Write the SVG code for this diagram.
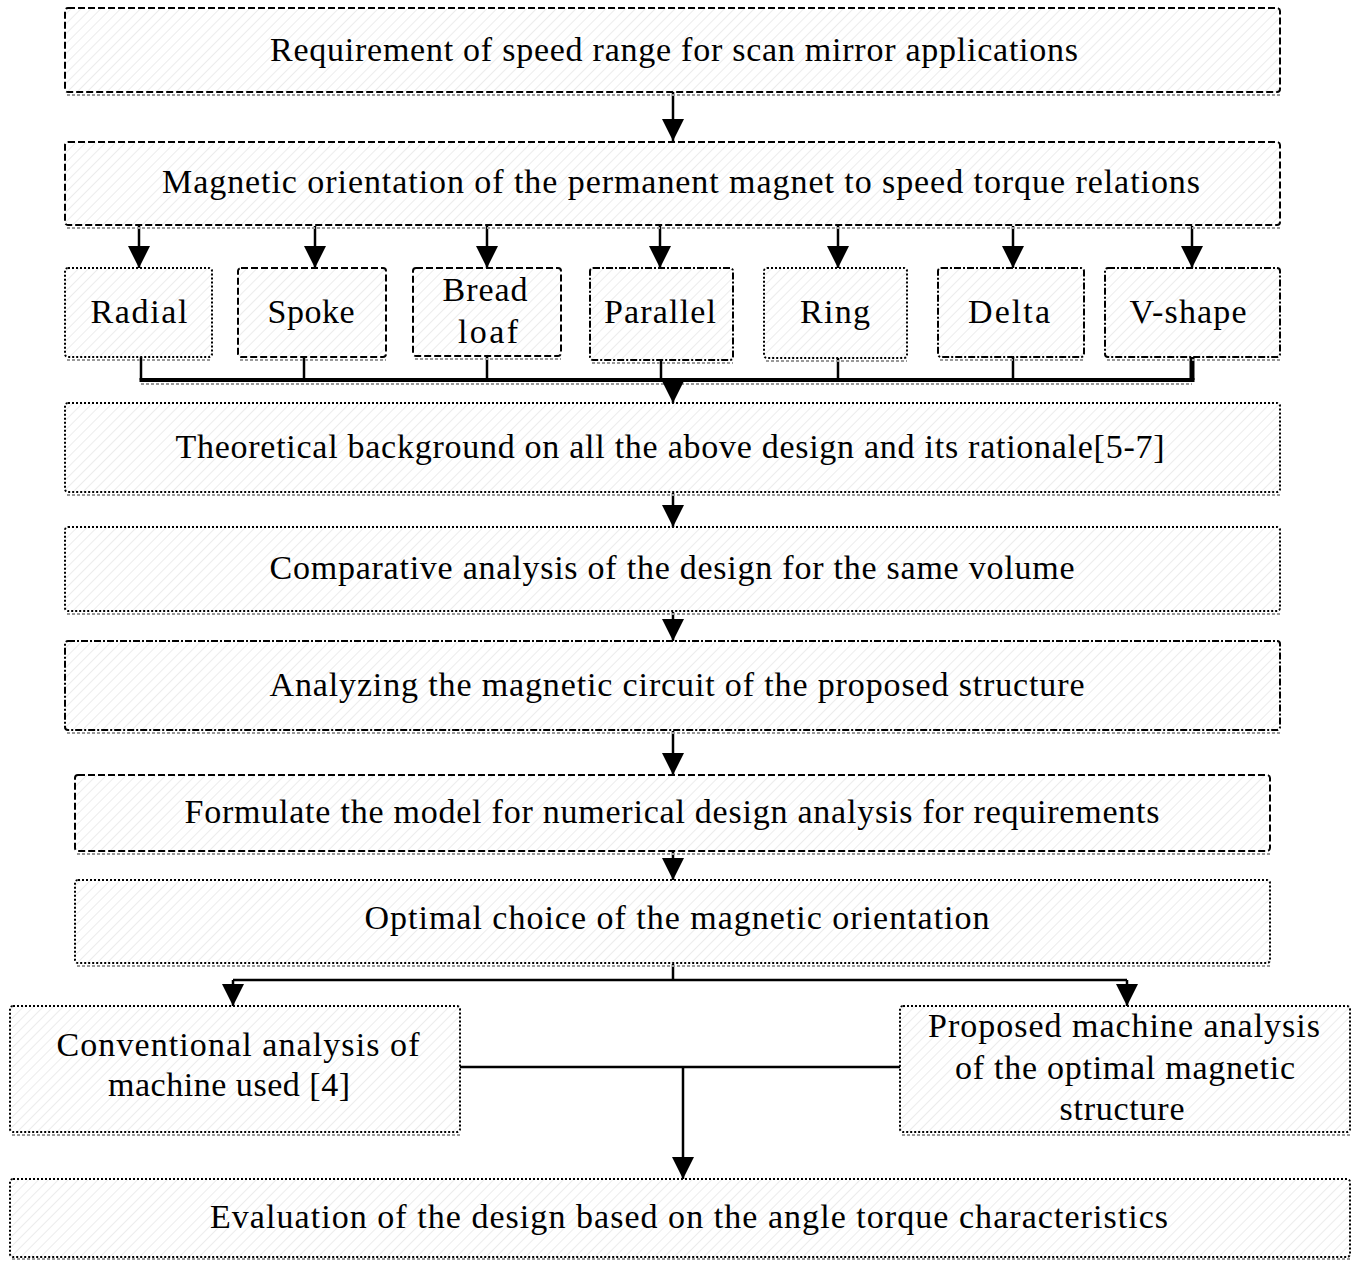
<svg xmlns="http://www.w3.org/2000/svg" width="1355" height="1262" viewBox="0 0 1355 1262">
<style>
.bx{fill:url(#hatch);stroke:#000;stroke-width:2}
.dt{stroke-dasharray:2,2}
.ds{stroke-dasharray:7,3}
.dd{stroke-dasharray:7,2,2,2}
.sh{fill:none;stroke:#999;stroke-width:2;stroke-dasharray:3,2}
.t{font-family:"Liberation Serif","Times New Roman",serif;font-size:34px;fill:#000;text-anchor:middle}
.c{fill:none;stroke:#000;stroke-width:2.5}
.ca{fill:none;stroke:#000;stroke-width:2.5;marker-end:url(#ah)}
</style>
<defs>
<pattern id="hatch" width="7" height="7" patternUnits="userSpaceOnUse" patternTransform="rotate(45)">
<rect width="7" height="7" fill="#fff"/>
<line x1="0" y1="0" x2="0" y2="7" stroke="#ececec" stroke-width="2"/>
</pattern>
<marker id="ah" viewBox="0 0 10 10" refX="10" refY="5" markerWidth="22" markerHeight="22" markerUnits="userSpaceOnUse" orient="auto">
<path d="M0,0 L10,5 L0,10 z" fill="#000"/>
</marker>
</defs>
<rect width="1355" height="1262" fill="#fff"/>

<g id="connectors">
<line class="ca" x1="673" y1="92" x2="673" y2="141"/>
<line class="ca" x1="139" y1="226" x2="139" y2="268"/>
<line class="ca" x1="315" y1="226" x2="315" y2="268"/>
<line class="ca" x1="487" y1="226" x2="487" y2="268"/>
<line class="ca" x1="660" y1="226" x2="660" y2="268"/>
<line class="ca" x1="838" y1="226" x2="838" y2="268"/>
<line class="ca" x1="1013" y1="226" x2="1013" y2="268"/>
<line class="ca" x1="1192" y1="226" x2="1192" y2="268"/>
<line class="c" x1="141" y1="357" x2="141" y2="380"/>
<line class="c" x1="304" y1="357" x2="304" y2="380"/>
<line class="c" x1="487" y1="356" x2="487" y2="380"/>
<line class="c" x1="661" y1="360" x2="661" y2="380"/>
<line class="c" x1="838" y1="358" x2="838" y2="380"/>
<line class="c" x1="1013" y1="357" x2="1013" y2="380"/>
<line x1="1192" y1="357" x2="1192" y2="380" stroke="#000" stroke-width="5"/>
<line x1="139.5" y1="380" x2="1194.5" y2="380" stroke="#000" stroke-width="4"/>
<line x1="141" y1="384" x2="1192" y2="384" stroke="#999" stroke-width="2" stroke-dasharray="3,2"/>
<line class="ca" x1="673" y1="380" x2="673" y2="403"/>
<line class="ca" x1="673" y1="493" x2="673" y2="527"/>
<line class="ca" x1="673" y1="612" x2="673" y2="641"/>
<line class="ca" x1="673" y1="731" x2="673" y2="775"/>
<line class="ca" x1="673" y1="852" x2="673" y2="880"/>
<line class="c" x1="673" y1="964" x2="673" y2="980"/>
<line class="c" x1="233" y1="980" x2="1127" y2="980"/>
<line class="ca" x1="233" y1="980" x2="233" y2="1006"/>
<line class="ca" x1="1127" y1="980" x2="1127" y2="1006"/>
<line class="c" x1="460" y1="1067" x2="900" y2="1067"/>
<line class="ca" x1="683" y1="1067" x2="683" y2="1179"/>
</g>

<g id="n1">
<rect class="bx ds" x="65" y="8" width="1215" height="84" rx="3"/>
<line class="sh" x1="67" y1="95" x2="1280" y2="95"/>
<text class="t" x="674" y="61" textLength="808" lengthAdjust="spacing">Requirement of speed range for scan mirror applications</text>
</g>
<g id="n2">
<rect class="bx ds" x="65" y="142" width="1215" height="83" rx="3"/>
<line class="sh" x1="67" y1="228" x2="1280" y2="228"/>
<text class="t" x="681" y="193" textLength="1038" lengthAdjust="spacing">Magnetic orientation of the permanent magnet to speed torque relations</text>
</g>
<g id="n_radial">
<rect class="bx dt" x="65" y="268" width="147" height="89" rx="3"/>
<line class="sh" x1="67" y1="360" x2="212" y2="360"/>
<text class="t" x="139" y="323" textLength="97" lengthAdjust="spacing">Radial</text>
</g>
<g id="n_spoke">
<rect class="bx ds" x="238" y="268" width="148" height="89" rx="3"/>
<line class="sh" x1="240" y1="360" x2="386" y2="360"/>
<text class="t" x="311" y="323" textLength="87" lengthAdjust="spacing">Spoke</text>
</g>
<g id="n_bread">
<rect class="bx ds" x="413" y="268" width="148" height="88" rx="3"/>
<line class="sh" x1="415" y1="359" x2="561" y2="359"/>
<text class="t" x="485" y="301" textLength="85" lengthAdjust="spacing">Bread</text>
<text class="t" x="488" y="343" textLength="60" lengthAdjust="spacing">loaf</text>
</g>
<g id="n_parallel">
<rect class="bx dd" x="590" y="268" width="143" height="92" rx="3"/>
<line class="sh" x1="592" y1="363" x2="733" y2="363"/>
<text class="t" x="660" y="323" textLength="112" lengthAdjust="spacing">Parallel</text>
</g>
<g id="n_ring">
<rect class="bx dt" x="764" y="268" width="143" height="90" rx="3"/>
<line class="sh" x1="766" y1="361" x2="907" y2="361"/>
<text class="t" x="835" y="323" textLength="70" lengthAdjust="spacing">Ring</text>
</g>
<g id="n_delta">
<rect class="bx dd" x="938" y="268" width="146" height="89" rx="3"/>
<line class="sh" x1="940" y1="360" x2="1084" y2="360"/>
<text class="t" x="1009" y="323" textLength="82" lengthAdjust="spacing">Delta</text>
</g>
<g id="n_vshape">
<rect class="bx dd" x="1105" y="268" width="175" height="89" rx="3"/>
<line class="sh" x1="1107" y1="360" x2="1280" y2="360"/>
<text class="t" x="1188" y="323" textLength="117" lengthAdjust="spacing">V-shape</text>
</g>
<g id="n3">
<rect class="bx dt" x="65" y="403" width="1215" height="89" rx="3"/>
<line class="sh" x1="67" y1="495" x2="1280" y2="495"/>
<text class="t" x="670" y="458" textLength="989" lengthAdjust="spacing">Theoretical background on all the above design and its rationale[5-7]</text>
</g>
<g id="n4">
<rect class="bx dt" x="65" y="527" width="1215" height="84" rx="3"/>
<line class="sh" x1="67" y1="614" x2="1280" y2="614"/>
<text class="t" x="672" y="579" textLength="805" lengthAdjust="spacing">Comparative analysis of the design for the same volume</text>
</g>
<g id="n5">
<rect class="bx dd" x="65" y="641" width="1215" height="89" rx="3"/>
<line class="sh" x1="67" y1="733" x2="1280" y2="733"/>
<text class="t" x="677" y="696" textLength="815" lengthAdjust="spacing">Analyzing the magnetic circuit of the proposed structure</text>
</g>
<g id="n6">
<rect class="bx ds" x="75" y="775" width="1195" height="76" rx="3"/>
<line class="sh" x1="77" y1="854" x2="1270" y2="854"/>
<text class="t" x="672" y="823" textLength="975" lengthAdjust="spacing">Formulate the model for numerical design analysis for requirements</text>
</g>
<g id="n7">
<rect class="bx dt" x="75" y="880" width="1195" height="83" rx="3"/>
<line class="sh" x1="77" y1="966" x2="1270" y2="966"/>
<text class="t" x="677" y="929" textLength="625" lengthAdjust="spacing">Optimal choice of the magnetic orientation</text>
</g>
<g id="n8">
<rect class="bx dt" x="10" y="1006" width="450" height="126" rx="3"/>
<line class="sh" x1="12" y1="1135" x2="460" y2="1135"/>
<text class="t" x="238" y="1056" textLength="363" lengthAdjust="spacing">Conventional analysis of</text>
<text class="t" x="229" y="1096" textLength="242" lengthAdjust="spacing">machine used [4]</text>
</g>
<g id="n9">
<rect class="bx dt" x="900" y="1006" width="450" height="126" rx="3"/>
<line class="sh" x1="902" y1="1135" x2="1350" y2="1135"/>
<text class="t" x="1124" y="1037" textLength="392" lengthAdjust="spacing">Proposed machine analysis</text>
<text class="t" x="1125" y="1079" textLength="340" lengthAdjust="spacing">of the optimal magnetic</text>
<text class="t" x="1122" y="1120" textLength="125" lengthAdjust="spacing">structure</text>
</g>
<g id="n10">
<rect class="bx dt" x="10" y="1179" width="1340" height="78" rx="3"/>
<line class="sh" x1="12" y1="1259" x2="1350" y2="1259"/>
<text class="t" x="689" y="1228" textLength="958" lengthAdjust="spacing">Evaluation of the design based on the angle torque characteristics</text>
</g>
</svg>
